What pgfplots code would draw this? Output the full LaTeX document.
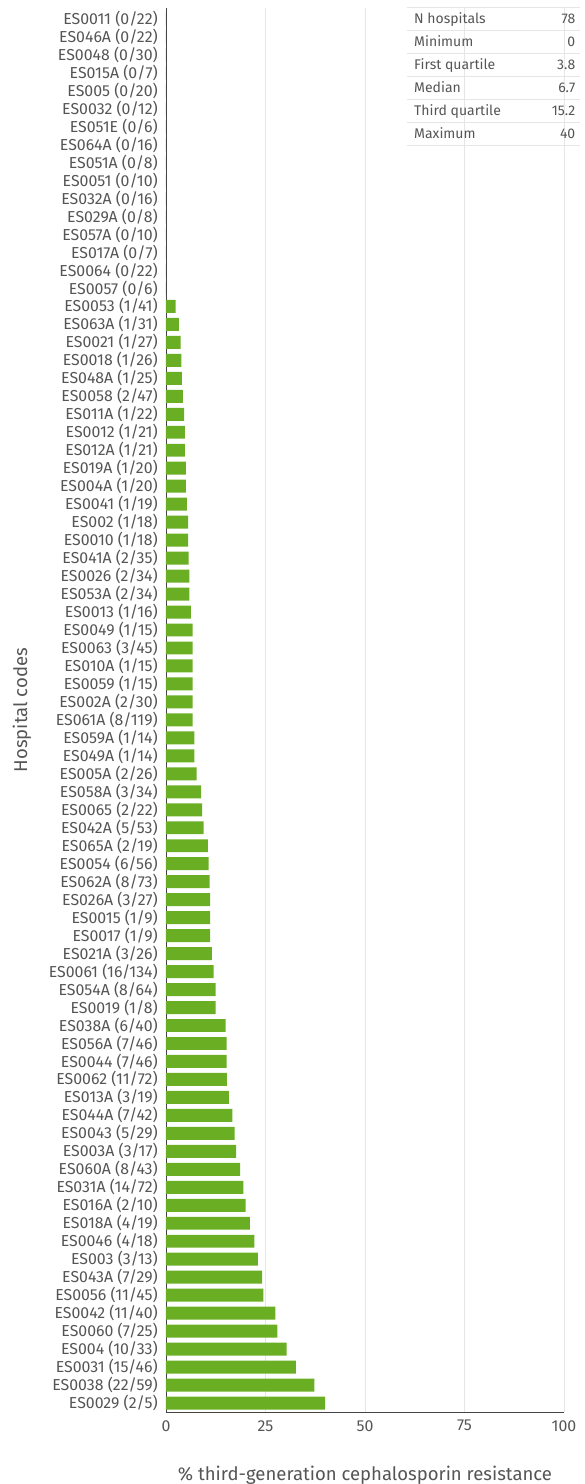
\documentclass[border=0pt]{standalone}
\usepackage{pgfplots}
\usepackage{pgfplotstable}
\pgfplotsset{compat=1.18}
\usepackage{fontspec}
\setmainfont{Fira Sans}
\definecolor{bargreen}{HTML}{6AAF23}
\definecolor{txt}{HTML}{555555}
\definecolor{gridc}{HTML}{E6E6E6}

% hospitals, top to bottom; value = % resistant
\pgfplotstableread[col sep=comma]{
label,value
ES0011 (0/22),0
ES046A (0/22),0
ES0048 (0/30),0
ES015A (0/7),0
ES005 (0/20),0
ES0032 (0/12),0
ES051E (0/6),0
ES064A (0/16),0
ES051A (0/8),0
ES0051 (0/10),0
ES032A (0/16),0
ES029A (0/8),0
ES057A (0/10),0
ES017A (0/7),0
ES0064 (0/22),0
ES0057 (0/6),0
ES0053 (1/41),2.44
ES063A (1/31),3.23
ES0021 (1/27),3.70
ES0018 (1/26),3.85
ES048A (1/25),4.00
ES0058 (2/47),4.26
ES011A (1/22),4.55
ES0012 (1/21),4.76
ES012A (1/21),4.76
ES019A (1/20),5.00
ES004A (1/20),5.00
ES0041 (1/19),5.26
ES002 (1/18),5.56
ES0010 (1/18),5.56
ES041A (2/35),5.71
ES0026 (2/34),5.88
ES053A (2/34),5.88
ES0013 (1/16),6.25
ES0049 (1/15),6.67
ES0063 (3/45),6.67
ES010A (1/15),6.67
ES0059 (1/15),6.67
ES002A (2/30),6.67
ES061A (8/119),6.72
ES059A (1/14),7.14
ES049A (1/14),7.14
ES005A (2/26),7.69
ES058A (3/34),8.82
ES0065 (2/22),9.09
ES042A (5/53),9.43
ES065A (2/19),10.53
ES0054 (6/56),10.71
ES062A (8/73),10.96
ES026A (3/27),11.11
ES0015 (1/9),11.11
ES0017 (1/9),11.11
ES021A (3/26),11.54
ES0061 (16/134),11.94
ES054A (8/64),12.50
ES0019 (1/8),12.50
ES038A (6/40),15.00
ES056A (7/46),15.22
ES0044 (7/46),15.22
ES0062 (11/72),15.28
ES013A (3/19),15.79
ES044A (7/42),16.67
ES0043 (5/29),17.24
ES003A (3/17),17.65
ES060A (8/43),18.60
ES031A (14/72),19.44
ES016A (2/10),20.00
ES018A (4/19),21.05
ES0046 (4/18),22.22
ES003 (3/13),23.08
ES043A (7/29),24.14
ES0056 (11/45),24.44
ES0042 (11/40),27.50
ES0060 (7/25),28.00
ES004 (10/33),30.30
ES0031 (15/46),32.61
ES0038 (22/59),37.29
ES0029 (2/5),40.00
}\hosp

\tikzset{
  stat/.style={text=txt, font=\fontsize{10.5}{12}\selectfont, inner sep=0pt},
  rule/.style={draw=gridc, line width=0.6pt},
}

\begin{document}
\begin{tikzpicture}
\begin{axis}[
    name=ax,
    width=298.5pt, height=1053pt, scale only axis,
    xbar, bar width=0.72,
    y dir=reverse,
    xmin=0, xmax=100, ymin=-0.6, ymax=77.5,
    xtick={0,25,50,75,100},
    ytick={0,...,77},
    yticklabels from table={\hosp}{label},
    axis x line*=bottom, axis y line*=left,
    axis line style={draw=txt!80!black, line width=0.6pt},
    xmajorgrids, grid style={draw=gridc, line width=0.6pt},
    major tick length=0pt,
    tick label style={text=txt, font=\fontsize{11.9}{13}\selectfont},
    /pgf/number format/assume math mode=true,
    yticklabel style={inner sep=0pt, xshift=-6pt},
    xticklabel style={inner sep=0pt, yshift=-6pt},
    xlabel={\% third-generation cephalosporin resistance},
    ylabel={Hospital codes},
    label style={text=txt, font=\fontsize{13.9}{15}\selectfont},
    xlabel style={at={(axis description cs:0.5,-0.0449)}, anchor=center},
    ylabel style={at={(axis description cs:-0.362,0.5)}, anchor=center},
    clip=false,
]
\addplot[fill=bargreen, draw=none] table[x=value, y expr=\coordindex] {\hosp};

% summary table, top right
\draw[rule] (axis cs:60.5,-0.64) -- (axis cs:104,-0.64);
\node[stat, anchor=base west] at (axis cs:62.3,0.28) {N hospitals};
\node[stat, anchor=base east] at (axis cs:102.9,0.28) {78};
\draw[rule] (axis cs:60.5,0.64) -- (axis cs:104,0.64);
\node[stat, anchor=base west] at (axis cs:62.3,1.56) {Minimum};
\node[stat, anchor=base east] at (axis cs:102.9,1.56) {0};
\draw[rule] (axis cs:60.5,1.92) -- (axis cs:104,1.92);
\node[stat, anchor=base west] at (axis cs:62.3,2.84) {First quartile};
\node[stat, anchor=base east] at (axis cs:102.9,2.84) {3.8};
\draw[rule] (axis cs:60.5,3.2) -- (axis cs:104,3.2);
\node[stat, anchor=base west] at (axis cs:62.3,4.12) {Median};
\node[stat, anchor=base east] at (axis cs:102.9,4.12) {6.7};
\draw[rule] (axis cs:60.5,4.48) -- (axis cs:104,4.48);
\node[stat, anchor=base west] at (axis cs:62.3,5.4) {Third quartile};
\node[stat, anchor=base east] at (axis cs:102.9,5.4) {15.2};
\draw[rule] (axis cs:60.5,5.76) -- (axis cs:104,5.76);
\node[stat, anchor=base west] at (axis cs:62.3,6.68) {Maximum};
\node[stat, anchor=base east] at (axis cs:102.9,6.68) {40};
\draw[rule] (axis cs:60.5,7.04) -- (axis cs:104,7.04);
\end{axis}
\pgfresetboundingbox
\path ([shift={(-124.5pt,-54pt)}]ax.south west) rectangle ([shift={(15.75pt,6pt)}]ax.north east);
\end{tikzpicture}
\end{document}
